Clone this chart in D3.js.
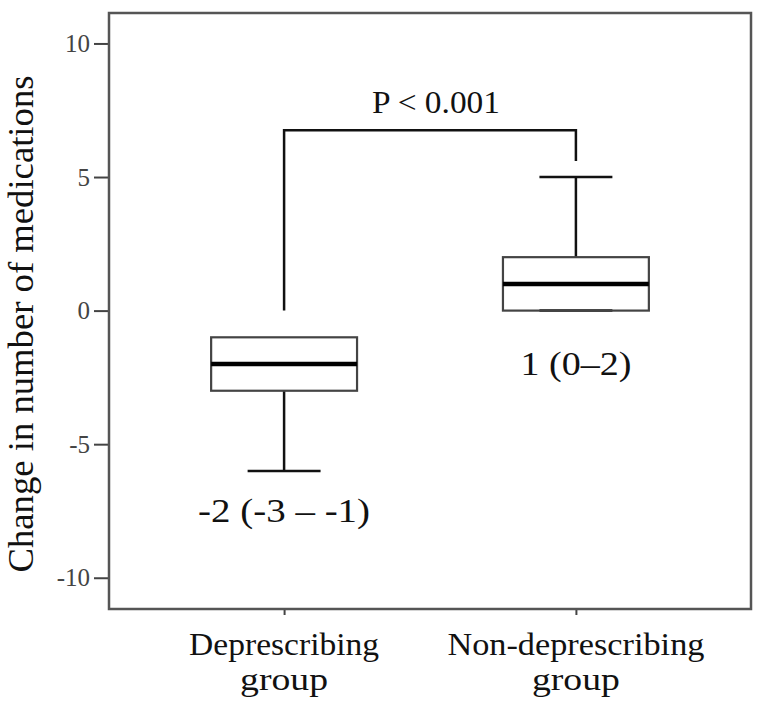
<!DOCTYPE html>
<html>
<head>
<meta charset="utf-8">
<script src="https://cdn.jsdelivr.net/npm/d3@7/dist/d3.min.js"></script>
<style>
  html, body { margin: 0; padding: 0; background: #fff; }
  svg { display: block; }
  text { font-family: "Liberation Serif", "Times New Roman", serif; }
</style>
</head>
<body>
<svg id="chart" width="765" height="709"></svg>
<script>
// ---- data ----
const groups = ["Deprescribing group", "Non-deprescribing group"];
const groupLabelLines = [["Deprescribing", "group"], ["Non-deprescribing", "group"]];
const q1Values = [-3, 0];
const medianValues = [-2, 1];
const q3Values = [-1, 2];
const whiskerLowValues = [-6, 0];
const whiskerHighValues = [-1, 5];
const summaryLabels = ["-2 (-3 \u2013 -1)", "1 (0\u20132)"];
const yTicks = [-10, -5, 0, 5, 10];
const yTickLabels = ["-10", "-5", "0", "5", "10"];
const yTitle = "Change in number of medications";
const pLabel = "P < 0.001";
const bracketLevel = 6.75;       // height of the comparison bracket
const bracketLegEnds = [0, 5.6]; // where each bracket leg stops

// ---- layout ----
const svg = d3.select("#chart");
const frame = { left: 109, right: 751, top: 13, bottom: 609 };
const serif = '"Liberation Serif", "Times New Roman", serif';

const x = d3.scalePoint().domain(groups).range([frame.left, frame.right]).padding(0.6);
const y = d3.scaleLinear().domain([-11.17, 11.14]).range([frame.bottom, frame.top]);
const boxW = x.step() * 0.5;
const capW = boxW * 0.5;

// y axis
const yAxis = d3.axisLeft(y).tickValues(yTicks)
  .tickFormat((d, i) => yTickLabels[i]).tickSize(15).tickPadding(4);
const gy = svg.append("g").attr("transform", `translate(${frame.left},0)`).call(yAxis)
  .attr("font-family", serif).attr("font-size", 25);
gy.select(".domain").remove();
gy.selectAll(".tick line").attr("stroke", "#444").attr("stroke-width", 2);
gy.selectAll(".tick text").attr("fill", "#444").style("font-size", "25px")
  .style("font-family", serif);

// x axis ticks (small)
const xAxis = d3.axisBottom(x).tickSize(6).tickFormat("");
const gx = svg.append("g").attr("transform", `translate(0,${frame.bottom})`).call(xAxis);
gx.select(".domain").remove();
gx.selectAll(".tick line").attr("stroke", "#444").attr("stroke-width", 2);

// frame
svg.append("rect")
  .attr("x", frame.left).attr("y", frame.top)
  .attr("width", frame.right - frame.left).attr("height", frame.bottom - frame.top)
  .attr("fill", "none").attr("stroke", "#555").attr("stroke-width", 2.5);

// x labels
const xLabelWidths = [[190, 88], [257, 88]];
groupLabelLines.forEach((lines, i) => {
  lines.forEach((ln, j) => {
    svg.append("text")
      .attr("x", x(groups[i])).attr("y", 655 + j * 35)
      .attr("text-anchor", "middle")
      .attr("fill", "#111")
      .style("font-size", "32px")
      .attr("textLength", xLabelWidths[i][j]).attr("lengthAdjust", "spacingAndGlyphs")
      .text(ln);
  });
});

// y title
svg.append("text")
  .attr("transform", `translate(33,${324}) rotate(-90)`)
  .attr("text-anchor", "middle")
  .attr("fill", "#111")
  .style("font-size", "35px")
  .attr("textLength", 497).attr("lengthAdjust", "spacingAndGlyphs")
  .text(yTitle);

// boxes
const gb = svg.append("g");
groups.forEach((g, i) => {
  const cx = x(g);
  // whiskers
  if (whiskerHighValues[i] > q3Values[i]) {
    gb.append("line").attr("x1", cx).attr("x2", cx)
      .attr("y1", y(q3Values[i])).attr("y2", y(whiskerHighValues[i]))
      .attr("stroke", "#111").attr("stroke-width", 2.5);
    gb.append("line").attr("x1", cx - capW / 2).attr("x2", cx + capW / 2)
      .attr("y1", y(whiskerHighValues[i])).attr("y2", y(whiskerHighValues[i]))
      .attr("stroke", "#111").attr("stroke-width", 2.5);
  }
  if (whiskerLowValues[i] < q1Values[i]) {
    gb.append("line").attr("x1", cx).attr("x2", cx)
      .attr("y1", y(q1Values[i])).attr("y2", y(whiskerLowValues[i]))
      .attr("stroke", "#111").attr("stroke-width", 2.5);
  }
  gb.append("line").attr("x1", cx - capW / 2).attr("x2", cx + capW / 2)
    .attr("y1", y(whiskerLowValues[i])).attr("y2", y(whiskerLowValues[i]))
    .attr("stroke", "#111").attr("stroke-width", 2.5);
  // box
  gb.append("rect")
    .attr("x", cx - boxW / 2).attr("width", boxW)
    .attr("y", y(q3Values[i])).attr("height", y(q1Values[i]) - y(q3Values[i]))
    .attr("fill", "none").attr("stroke", "#444").attr("stroke-width", 2.2);
  // median
  gb.append("line").attr("x1", cx - boxW / 2).attr("x2", cx + boxW / 2)
    .attr("y1", y(medianValues[i])).attr("y2", y(medianValues[i]))
    .attr("stroke", "#000").attr("stroke-width", 4.5);
});

// summary labels
const summaryBaseY = [522, 375];
const summaryWidths = [172, 111];
summaryLabels.forEach((s, i) => {
  svg.append("text")
    .attr("x", x(groups[i])).attr("y", summaryBaseY[i])
    .attr("text-anchor", "middle")
    .attr("fill", "#111")
    .style("font-size", "33px")
    .attr("textLength", summaryWidths[i]).attr("lengthAdjust", "spacingAndGlyphs")
    .text(s);
});

// significance bracket
const bx0 = x(groups[0]), bx1 = x(groups[1]);
svg.append("path")
  .attr("d", d3.line()([
    [bx0, y(bracketLegEnds[0])],
    [bx0, y(bracketLevel)],
    [bx1, y(bracketLevel)],
    [bx1, y(bracketLegEnds[1])]
  ]))
  .attr("fill", "none").attr("stroke", "#111").attr("stroke-width", 2.5);

svg.append("text")
  .attr("x", (bx0 + bx1) / 2 + 6).attr("y", 113)
  .attr("text-anchor", "middle")
  .attr("fill", "#111")
  .style("font-size", "31px")
  .attr("textLength", 128).attr("lengthAdjust", "spacingAndGlyphs")
  .text(pLabel);
</script>
</body>
</html>
